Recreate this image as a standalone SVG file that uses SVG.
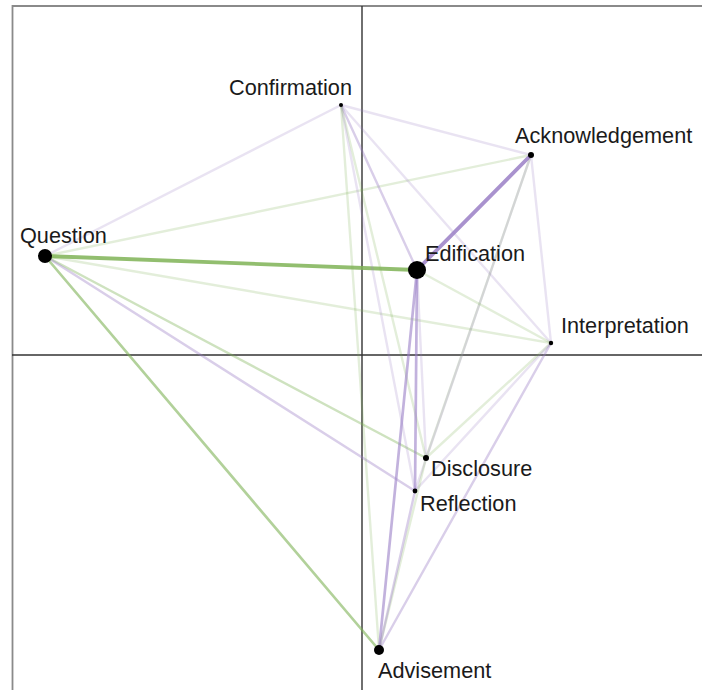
<svg xmlns="http://www.w3.org/2000/svg" width="702" height="690" viewBox="0 0 702 690">
  <style>
    .frame { fill: none; stroke: #8a8a8a; stroke-width: 1.8; }
    .axis { stroke: #333333; stroke-width: 1.4; }
    .edge { fill: none; stroke-linecap: round; }
    .g { stroke: #7fb356; }
    .p { stroke: #9a7fc6; }
    .w1 { stroke-width: 2.4; stroke-opacity: 0.22; }
    .w2 { stroke-width: 2.4; stroke-opacity: 0.38; }
    .w3 { stroke-width: 2.7; stroke-opacity: 0.6; }
    .w4 { stroke-width: 3.8; stroke-opacity: 0.85; }
    .dot { fill: #000; }
    .label { font-family: "Liberation Sans", Arial, sans-serif; font-size: 21.7px; fill: #1a1a1a; }
  </style>

  <rect width="702" height="690" fill="#ffffff"/>

  <!-- plot frame and axes -->
  <g id="frame">
    <path class="frame" d="M12.5,692 V6 H704"/>
    <line class="axis" x1="362" y1="6" x2="362" y2="690"/>
    <line class="axis" x1="12" y1="355" x2="702" y2="355"/>
  </g>

  <!-- connectors -->
  <g id="connectors">
    <!-- Question -->
    <line class="edge p w1" x1="45" y1="256" x2="341" y2="105"/>
    <line class="edge g w1" x1="45" y1="256" x2="531" y2="155"/>
    <line class="edge g w1" x1="45" y1="256" x2="551" y2="343"/>
    <line class="edge g w2" x1="45" y1="256" x2="426" y2="458"/>
    <line class="edge p w2" x1="45" y1="256" x2="415" y2="491"/>
    <line class="edge g w3" x1="45" y1="256" x2="379" y2="650"/>
    <line class="edge g w4" x1="45" y1="256" x2="417" y2="270"/>
    <!-- Confirmation -->
    <line class="edge p w1" x1="341" y1="105" x2="531" y2="155"/>
    <line class="edge p w1" x1="341" y1="105" x2="551" y2="343"/>
    <line class="edge p w2" x1="341" y1="105" x2="417" y2="270"/>
    <line class="edge g w1" x1="341" y1="105" x2="426" y2="458"/>
    <line class="edge p w1" x1="341" y1="105" x2="415" y2="491"/>
    <line class="edge g w1" x1="341" y1="105" x2="379" y2="650"/>
    <!-- Acknowledgement -->
    <line class="edge p w1" x1="531" y1="155" x2="551" y2="343"/>
    <line class="edge g w1" x1="531" y1="155" x2="426" y2="458"/>
    <line class="edge p w1" x1="531" y1="155" x2="415" y2="491"/>
    <line class="edge p w4" x1="531" y1="155" x2="417" y2="270"/>
    <!-- Edification -->
    <line class="edge g w1" x1="417" y1="270" x2="551" y2="343"/>
    <line class="edge p w1" x1="417" y1="270" x2="426" y2="458"/>
    <line class="edge p w3" x1="417" y1="270" x2="415" y2="491"/>
    <line class="edge p w3" x1="417" y1="270" x2="379" y2="650"/>
    <!-- Interpretation -->
    <line class="edge g w1" x1="551" y1="343" x2="426" y2="458"/>
    <line class="edge p w1" x1="551" y1="343" x2="415" y2="491"/>
    <line class="edge p w2" x1="551" y1="343" x2="379" y2="650"/>
    <!-- Disclosure / Reflection -->
    <line class="edge g w1" x1="426" y1="458" x2="379" y2="650"/>
    <line class="edge p w2" x1="415" y1="491" x2="379" y2="650"/>
  </g>

  <!-- nodes -->
  <g id="node-confirmation">
    <circle class="dot" cx="341" cy="105" r="2"/>
    <text class="label" x="229" y="95">Confirmation</text>
  </g>
  <g id="node-acknowledgement">
    <circle class="dot" cx="531" cy="155" r="3"/>
    <text class="label" x="515" y="143">Acknowledgement</text>
  </g>
  <g id="node-question">
    <circle class="dot" cx="45" cy="256" r="7"/>
    <text class="label" x="20" y="243">Question</text>
  </g>
  <g id="node-edification">
    <circle class="dot" cx="417" cy="270" r="9"/>
    <text class="label" x="425" y="261">Edification</text>
  </g>
  <g id="node-interpretation">
    <circle class="dot" cx="551" cy="343" r="2.2"/>
    <text class="label" x="561" y="333">Interpretation</text>
  </g>
  <g id="node-disclosure">
    <circle class="dot" cx="426" cy="458" r="3"/>
    <text class="label" x="431" y="476">Disclosure</text>
  </g>
  <g id="node-reflection">
    <circle class="dot" cx="415" cy="491" r="2.4"/>
    <text class="label" x="420" y="511">Reflection</text>
  </g>
  <g id="node-advisement">
    <circle class="dot" cx="379" cy="650" r="5"/>
    <text class="label" x="378" y="678">Advisement</text>
  </g>
</svg>
